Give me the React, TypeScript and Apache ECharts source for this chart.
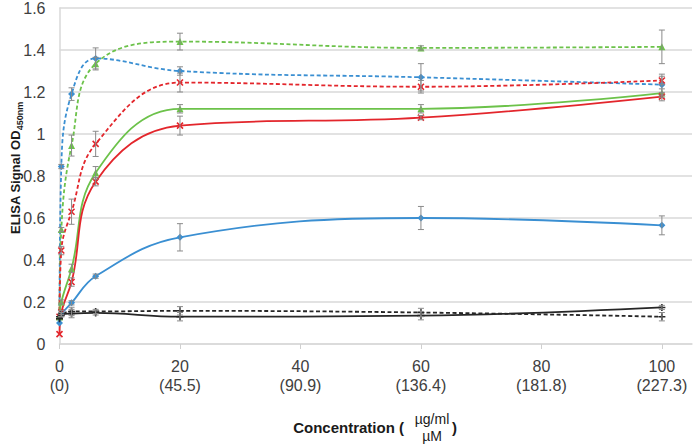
import React, { useEffect, useRef } from "react";
import * as echarts from "echarts";

// Concentrations (µg/ml)
const xs = [0, 0.3, 2, 6, 20, 60, 100];

// Series values (ELISA OD450)
const blueDashed = [0.12, 0.845, 1.19, 1.36, 1.3, 1.27, 1.235];
const greenDashed = [0.13, 0.545, 0.945, 1.335, 1.44, 1.41, 1.415];
const redDashed = [0.13, 0.445, 0.63, 0.953, 1.245, 1.225, 1.255];
const greenSolid = [0.13, 0.2, 0.36, 0.815, 1.12, 1.12, 1.195];
const redSolid = [0.047, 0.15, 0.295, 0.773, 1.04, 1.078, 1.178];
const blueSolid = [0.1, 0.14, 0.196, 0.323, 0.508, 0.6, 0.565];
const blackSolid = [0.13, 0.14, 0.145, 0.148, 0.13, 0.135, 0.174];
const blackDashed = [0.12, 0.14, 0.155, 0.155, 0.158, 0.15, 0.13];

// Error bar half-widths
const blueDashedErr = [0, 0.01, 0.03, 0.05, 0.02, 0.065, 0.05];
const greenDashedErr = [0, 0.01, 0.05, 0.03, 0.04, 0.01, 0.08];
const redDashedErr = [0, 0.02, 0.06, 0.06, 0.045, 0.03, 0.02];
const greenSolidErr = [0, 0.01, 0.02, 0.03, 0.02, 0.02, 0.02];
const redSolidErr = [0, 0.01, 0.02, 0.02, 0.045, 0.01, 0.02];
const blueSolidErr = [0, 0.01, 0.01, 0.01, 0.065, 0.055, 0.045];
const blackSolidErr = [0, 0.01, 0.02, 0.01, 0.02, 0.02, 0.01];
const blackDashedErr = [0, 0.01, 0.02, 0.01, 0.02, 0.02, 0.02];

// Tick labels
const xTickVals = [0, 20, 40, 60, 80, 100];
const xTickMolar = ["0", "45.5", "90.9", "136.4", "181.8", "227.3"];

const BLUE = "#3a8fd2";
const GREEN = "#6cc24a";
const RED = "#e3262c";
const BLACK = "#262626";

const X_SYM = "path://M0,0L10,10M10,0L0,10";
const PLUS_SYM = "path://M5,0L5,10M0,5L10,5";

export default function App() {
  const ref = useRef<HTMLDivElement>(null);
  useEffect(() => {
    if (!ref.current) return;
    const chart = echarts.init(ref.current, null, { renderer: "svg" });

    const defs = [
      { name: "blueDashed", v: blueDashed, e: blueDashedErr, color: BLUE, dashed: true, symbol: "diamond", size: 7 },
      { name: "greenDashed", v: greenDashed, e: greenDashedErr, color: GREEN, dashed: true, symbol: "triangle", size: 7 },
      { name: "redDashed", v: redDashed, e: redDashedErr, color: RED, dashed: true, symbol: X_SYM, size: 6 },
      { name: "greenSolid", v: greenSolid, e: greenSolidErr, color: GREEN, dashed: false, symbol: "triangle", size: 7 },
      { name: "redSolid", v: redSolid, e: redSolidErr, color: RED, dashed: false, symbol: X_SYM, size: 6 },
      { name: "blueSolid", v: blueSolid, e: blueSolidErr, color: BLUE, dashed: false, symbol: "diamond", size: 7 },
      { name: "blackSolid", v: blackSolid, e: blackSolidErr, color: BLACK, dashed: false, symbol: PLUS_SYM, size: 7 },
      { name: "blackDashed", v: blackDashed, e: blackDashedErr, color: BLACK, dashed: true, symbol: PLUS_SYM, size: 7 },
    ];

    const errData: number[][] = [];
    defs.forEach((d) => {
      xs.forEach((x, i) => {
        if (d.e[i] > 0.005) errData.push([x, d.v[i] - d.e[i], d.v[i] + d.e[i]]);
      });
    });

    const lineSeries = defs.map((d) => ({
      type: "line",
      name: d.name,
      data: xs.map((x, i) => [x, d.v[i]]),
      smooth: 0.4,
      symbol: d.symbol,
      symbolSize: d.size,
      showAllSymbol: true,
      lineStyle: {
        color: d.color,
        width: 1.8,
        type: d.dashed ? [4, 2.5] : "solid",
      },
      itemStyle: {
        color: d.color,
        borderColor: d.color,
        borderWidth: d.symbol === X_SYM || d.symbol === PLUS_SYM ? 1.6 : 0,
      },
      z: 3,
    }));

    const errSeries = {
      type: "custom",
      name: "err",
      data: errData,
      z: 4,
      renderItem: (params: any, api: any) => {
        const x = api.value(0);
        const lo = api.coord([x, api.value(1)]);
        const hi = api.coord([x, api.value(2)]);
        const cw = 3;
        const style = { stroke: "#8a8a8a", lineWidth: 1 };
        return {
          type: "group",
          children: [
            { type: "line", shape: { x1: lo[0], y1: lo[1], x2: hi[0], y2: hi[1] }, style },
            { type: "line", shape: { x1: lo[0] - cw, y1: lo[1], x2: lo[0] + cw, y2: lo[1] }, style },
            { type: "line", shape: { x1: hi[0] - cw, y1: hi[1], x2: hi[0] + cw, y2: hi[1] }, style },
          ],
        };
      },
    };

    const option: any = {
      animation: false,
      grid: { left: 59.5, right: 1, top: 7, bottom: 100 },
      xAxis: {
        type: "value",
        min: 0,
        max: 105,
        interval: 20,
        splitLine: { show: false },
        axisLine: { lineStyle: { color: "#d9d9d9", width: 1.5 } },
        axisTick: {
          show: true,
          customValues: xTickVals,
          length: 5,
          lineStyle: { color: "#d0d0d0" },
        },
        axisLabel: {
          customValues: xTickVals,
          formatter: (v: number) => {
            const i = xTickVals.indexOf(v);
            return i >= 0 ? `${xTickVals[i]}\n(${xTickMolar[i]})` : "";
          },
          fontFamily: "Liberation Sans",
          fontSize: 16,
          lineHeight: 19,
          color: "#404040",
          margin: 13,
        },
      },
      yAxis: {
        type: "value",
        min: 0,
        max: 1.6,
        interval: 0.2,
        axisLine: { show: true, lineStyle: { color: "#d9d9d9", width: 1.5 } },
        axisTick: { show: false },
        splitLine: { lineStyle: { color: "#d9d9d9", width: 1.5 } },
        axisLabel: {
          fontFamily: "Liberation Sans",
          fontSize: 16,
          color: "#404040",
          margin: 14,
        },
      },
      graphic: [
        {
          type: "text",
          x: 15,
          y: 168,
          rotation: Math.PI / 2,
          style: {
            text: "{a|ELISA Signal OD}{s|450nm}",
            align: "center",
            verticalAlign: "middle",
            rich: {
              a: { fontFamily: "Liberation Sans", fontWeight: "bold", fontSize: 13, fill: "#1a1a1a", lineHeight: 18, verticalAlign: "middle" },
              s: { fontFamily: "Liberation Sans", fontWeight: "bold", fontSize: 9, fill: "#1a1a1a", lineHeight: 18, verticalAlign: "bottom", padding: [6, 0, 0, 0] },
            },
          },
        },
        {
          type: "text",
          x: 404,
          y: 427,
          style: {
            text: "Concentration (",
            align: "right",
            verticalAlign: "middle",
            font: "bold 15px 'Liberation Sans'",
            fill: "#1a1a1a",
          },
        },
        {
          type: "text",
          x: 432,
          y: 419,
          style: {
            text: "µg/ml",
            align: "center",
            verticalAlign: "middle",
            font: "14px 'Liberation Sans'",
            fill: "#1a1a1a",
          },
        },
        {
          type: "text",
          x: 432,
          y: 436,
          style: {
            text: "µM",
            align: "center",
            verticalAlign: "middle",
            font: "14px 'Liberation Sans'",
            fill: "#1a1a1a",
          },
        },
        {
          type: "text",
          x: 452,
          y: 427,
          style: {
            text: ")",
            align: "left",
            verticalAlign: "middle",
            font: "bold 15px 'Liberation Sans'",
            fill: "#1a1a1a",
          },
        },
      ],
      series: [...lineSeries, errSeries],
    };

    chart.setOption(option);
    return () => chart.dispose();
  }, []);

  return <div ref={ref} style={{ width: 693, height: 444, position: "absolute", left: 0, top: 0 }} />;
}
